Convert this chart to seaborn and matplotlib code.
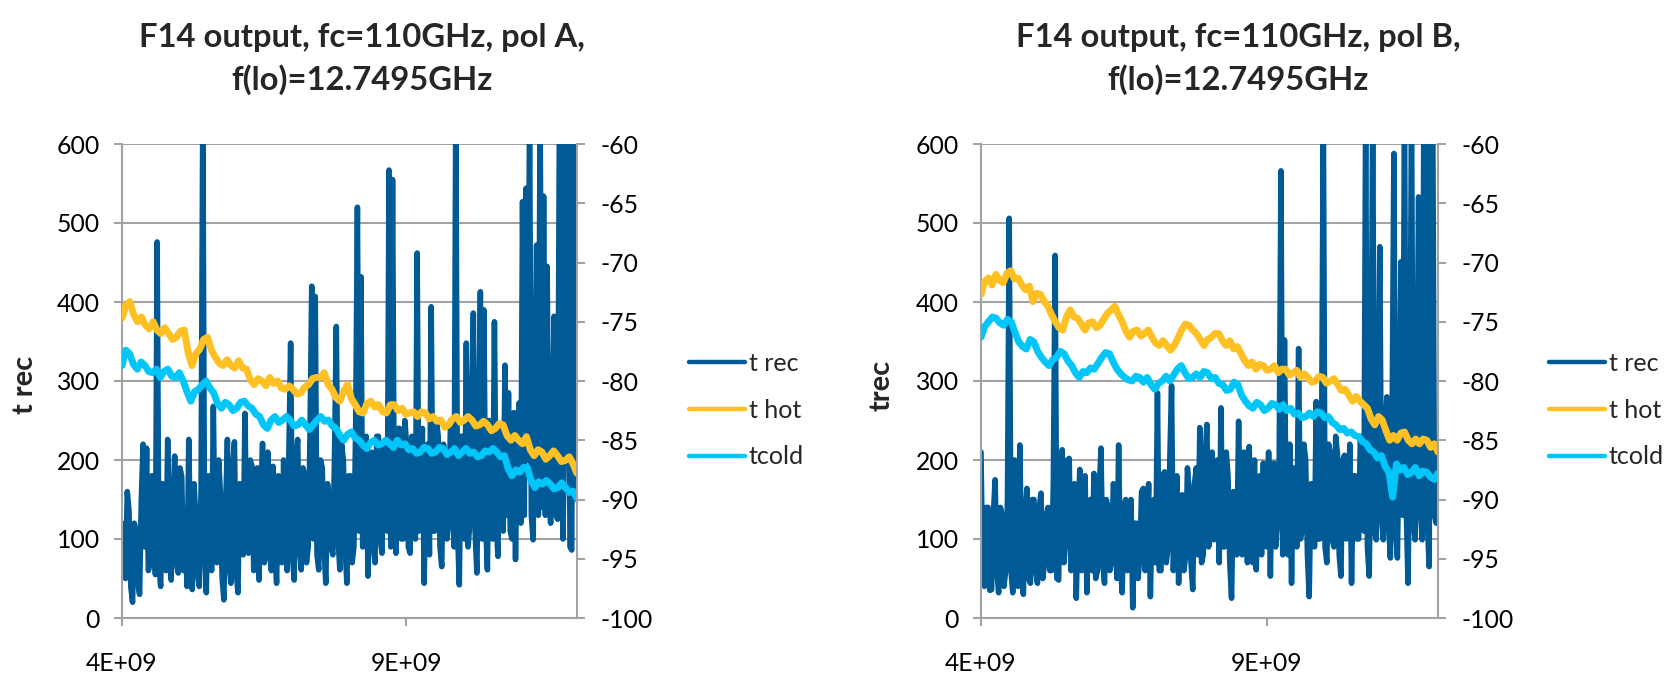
import numpy as np
import pandas as pd
import matplotlib
matplotlib.use("Agg")
import matplotlib.pyplot as plt
from matplotlib.lines import Line2D
import seaborn as sns

# ---------------- data ----------------
f_min, f_max = 4e9, 12e9
xtick_vals = [4e9, 9e9]
xtick_labels = ["4E+09", "9E+09"]
left_ticks = [0, 100, 200, 300, 400, 500, 600]
right_ticks = [-100, -95, -90, -85, -80, -75, -70, -65, -60]

titles = ["F14 output, fc=110GHz, pol A,\nf(lo)=12.7495GHz",
          "F14 output, fc=110GHz, pol B,\nf(lo)=12.7495GHz"]
ylabels = ["t rec", "trec"]
series_names = ["t rec", "t hot", "tcold"]

# pol A : receiver temperature (left axis)
trec_A = [120, 60, 50, 160, 135, 40, 20, 120, 110, 45, 30, 150, 220, 90, 215, 60, 70, 180, 160, 55,
          476, 70, 40, 170, 155, 60, 226, 80, 48, 150, 205, 70, 57, 190, 179, 60, 120, 40, 226, 90,
          36, 170, 129, 55, 40, 160, 650, 90, 32, 180, 140, 60, 268, 80, 70, 200, 160, 50, 23, 140,
          226, 70, 44, 190, 223, 60, 32, 170, 150, 80, 259, 90, 82, 200, 192, 60, 110, 190, 48, 150,
          221, 70, 78, 210, 160, 60, 192, 90, 44, 180, 150, 70, 200, 100, 60, 210, 348, 80, 48, 200,
          226, 90, 61, 190, 180, 70, 90, 230, 420, 100, 407, 80, 61, 200, 190, 90, 44, 170, 150, 90,
          80, 210, 369, 100, 61, 220, 200, 90, 44, 180, 180, 70, 90, 240, 520, 110, 432, 90, 120, 230,
          53, 200, 210, 90, 70, 230, 230, 100, 82, 220, 200, 110, 567, 90, 555, 120, 82, 240, 240, 100,
          100, 250, 220, 90, 82, 230, 180, 100, 462, 110, 150, 240, 44, 200, 220, 80, 394, 110, 110, 250,
          230, 90, 65, 220, 200, 100, 120, 250, 240, 90, 650, 110, 42, 230, 230, 100, 348, 90, 120, 260,
          386, 110, 57, 240, 413, 100, 390, 120, 61, 250, 210, 100, 375, 120, 78, 240, 230, 110, 320, 130,
          285, 110, 100, 260, 74, 230, 272, 120, 527, 130, 544, 200, 650, 130, 99, 280, 472, 130, 650, 140,
          534, 130, 445, 150, 120, 260, 382, 130, 125, 650, 650, 100, 250, 650, 650, 90, 86, 650, 650, 150]
# pol A : hot / cold load power (right axis, dBm)
thot_A = [-74.7, -73.6, -73.3, -74.4, -75.0, -74.6, -75.3, -75.6, -75.0, -75.7, -76.0, -75.5, -76.0, -76.5,
          -76.3, -75.8, -75.7, -77.6, -78.7, -77.7, -77.3, -76.5, -76.3, -77.4, -78.0, -78.5, -78.7, -78.2,
          -78.7, -78.9, -78.3, -78.9, -79.0, -79.9, -80.3, -79.8, -80.0, -80.4, -79.7, -80.2, -80.0, -80.6,
          -80.7, -80.4, -80.7, -81.1, -81.0, -80.5, -80.3, -79.8, -79.7, -79.7, -79.3, -80.3, -80.7, -81.4,
          -81.7, -80.9, -80.3, -81.5, -82.0, -82.6, -82.7, -81.9, -81.7, -82.2, -82.0, -82.6, -82.7, -82.0,
          -82.0, -82.5, -82.3, -82.8, -82.7, -82.6, -83.0, -82.6, -82.7, -83.2, -83.0, -83.4, -83.3, -83.9,
          -83.7, -83.2, -83.0, -83.5, -83.3, -83.0, -83.3, -83.8, -83.7, -83.4, -83.7, -84.2, -84.0, -83.6,
          -83.7, -84.6, -85.0, -84.6, -85.0, -85.3, -84.7, -85.8, -86.3, -85.8, -86.0, -86.6, -86.3, -85.9,
          -86.3, -86.8, -86.7, -86.4, -87.0, -87.8]
tcold_A = [-78.7, -77.4, -77.7, -78.6, -79.0, -78.4, -78.7, -79.2, -79.3, -79.0, -79.7, -79.2, -79.0, -79.6,
           -79.7, -79.3, -80.0, -80.9, -81.7, -80.9, -80.7, -80.3, -80.0, -80.6, -81.0, -81.9, -82.3, -81.8,
           -82.0, -82.5, -82.3, -81.8, -81.7, -82.1, -82.3, -82.8, -83.0, -83.7, -84.0, -83.3, -83.0, -83.5,
           -83.3, -83.0, -83.3, -83.8, -83.7, -83.3, -83.7, -84.1, -83.7, -83.3, -83.0, -83.4, -83.3, -83.8,
           -84.0, -84.6, -85.0, -84.5, -84.3, -84.8, -85.0, -85.4, -85.7, -85.2, -85.0, -85.4, -85.3, -85.0,
           -85.3, -85.6, -85.0, -85.4, -85.3, -85.8, -85.7, -86.1, -86.0, -85.6, -85.7, -86.1, -86.0, -85.6,
           -85.7, -86.2, -86.0, -85.7, -86.3, -86.0, -85.7, -86.1, -86.0, -86.4, -86.3, -85.9, -86.0, -85.7,
           -86.0, -86.4, -86.3, -87.4, -88.0, -87.5, -87.7, -87.3, -87.3, -88.4, -89.0, -88.5, -88.7, -88.4,
           -88.7, -89.1, -89.0, -88.6, -89.0, -89.4, -89.3, -89.9]

# pol B
trec_B = [210, 50, 40, 140, 140, 35, 36, 130, 175, 60, 32, 140, 130, 40, 60, 150, 506, 60, 32, 200,
          100, 40, 219, 70, 30, 130, 164, 50, 44, 150, 150, 60, 44, 140, 158, 50, 70, 130, 140, 60,
          60, 170, 459, 50, 48, 190, 213, 70, 100, 200, 202, 60, 80, 170, 25, 130, 188, 60, 90, 180,
          32, 120, 150, 60, 183, 50, 60, 160, 215, 70, 44, 150, 140, 60, 70, 170, 160, 50, 219, 70,
          32, 140, 150, 60, 90, 150, 13, 120, 120, 50, 78, 160, 164, 60, 100, 170, 27, 140, 150, 70,
          285, 60, 60, 180, 185, 70, 90, 200, 294, 60, 120, 180, 44, 150, 156, 60, 80, 190, 160, 70,
          36, 170, 190, 80, 241, 70, 80, 200, 245, 90, 110, 210, 99, 180, 200, 70, 266, 90, 90, 210,
          180, 70, 25, 160, 150, 80, 249, 90, 80, 210, 200, 70, 217, 100, 70, 200, 61, 170, 180, 80,
          196, 100, 90, 210, 53, 180, 196, 90, 120, 200, 566, 80, 352, 100, 80, 220, 44, 190, 180, 90,
          341, 100, 110, 220, 200, 80, 27, 170, 160, 90, 274, 100, 100, 210, 650, 90, 70, 220, 208, 100,
          90, 230, 208, 80, 53, 200, 206, 100, 110, 220, 44, 180, 180, 100, 100, 230, 196, 110, 650, 90,
          53, 220, 650, 110, 99, 240, 470, 130, 99, 230, 280, 120, 76, 250, 588, 110, 76, 240, 451, 130,
          650, 140, 44, 230, 650, 120, 99, 250, 533, 140, 99, 650, 650, 120, 65, 650, 650, 130, 120, 200]
thot_B = [-72.7, -71.6, -71.3, -71.9, -71.0, -71.5, -71.7, -70.9, -70.7, -71.4, -71.3, -71.9, -72.3, -72.0,
          -73.3, -72.6, -72.7, -73.3, -73.7, -74.4, -75.0, -75.5, -75.7, -74.6, -74.0, -74.6, -74.7, -75.2,
          -75.7, -75.1, -75.0, -75.5, -75.3, -74.8, -74.3, -74.0, -73.7, -74.4, -75.0, -75.8, -76.3, -75.8,
          -75.7, -76.2, -76.0, -75.7, -76.3, -76.8, -77.0, -76.6, -77.0, -77.4, -77.0, -76.4, -75.7, -75.2,
          -75.3, -75.7, -76.0, -76.5, -77.0, -76.5, -76.3, -76.0, -76.0, -76.6, -77.0, -76.6, -77.3, -77.1,
          -77.7, -78.3, -78.7, -78.4, -79.0, -78.6, -78.7, -79.1, -79.0, -78.7, -79.3, -79.0, -79.0, -79.5,
          -79.3, -79.1, -79.7, -79.4, -79.7, -80.1, -80.0, -79.6, -79.7, -80.2, -80.0, -79.8, -80.3, -80.8,
          -80.7, -81.2, -81.7, -81.3, -81.7, -82.0, -82.3, -83.2, -83.7, -83.0, -83.3, -84.2, -85.0, -84.6,
          -85.0, -84.4, -84.3, -85.0, -85.3, -84.9, -85.3, -84.9, -85.0, -85.6, -85.3, -86.0]
tcold_B = [-76.3, -75.4, -75.0, -74.6, -74.7, -75.1, -75.3, -74.8, -75.0, -75.9, -76.7, -77.1, -77.3, -76.5,
           -76.7, -77.5, -78.0, -78.4, -78.7, -78.2, -78.0, -77.5, -77.7, -78.3, -78.7, -79.3, -79.7, -79.2,
           -79.3, -78.9, -79.0, -78.5, -78.0, -77.6, -77.7, -78.4, -79.0, -79.4, -79.7, -79.9, -80.0, -79.6,
           -79.7, -80.1, -79.7, -80.3, -80.7, -80.2, -80.0, -79.6, -80.0, -79.5, -79.0, -78.7, -79.3, -79.8,
           -79.7, -79.4, -79.7, -79.2, -79.3, -79.8, -79.7, -80.2, -80.3, -80.8, -80.7, -80.1, -80.3, -81.2,
           -81.7, -82.1, -82.3, -81.8, -82.0, -82.5, -82.3, -81.9, -82.0, -82.4, -82.0, -82.5, -82.3, -82.8,
           -82.7, -83.1, -83.0, -82.7, -83.0, -82.6, -82.7, -83.1, -83.0, -83.5, -83.7, -84.1, -84.0, -84.4,
           -84.3, -84.6, -84.7, -85.1, -85.3, -85.8, -86.0, -86.5, -86.3, -87.2, -87.7, -89.8, -87.0, -87.5,
           -87.3, -87.9, -87.7, -87.3, -88.0, -87.6, -87.7, -88.1, -88.3, -87.8]

# ---------------- style ----------------
sns.set_style("white")
FONT = ["Lato", "DejaVu Sans"]
plt.rcParams["font.family"] = FONT

C_REC = "#005A96"
C_HOT = "#FFC024"
C_COLD = "#00C6FA"
GRID = "#A3A3A3"
LW_REC = 4.0
LW_TEMP = 5.0
TICK_LEN = 5.8

W, H = 1675, 675
fig = plt.figure(figsize=(W / 100, H / 100), dpi=100)
fig.patch.set_facecolor("white")
renderer = fig.canvas.get_renderer()


def fit_size(s, target_px, weight="normal", ref=20.0):
    t = fig.text(0, 0, s, fontsize=ref, fontweight=weight)
    w = t.get_window_extent(renderer=renderer).width
    t.remove()
    return ref * target_px / w


TITLE_SIZE = fit_size("F14 output, fc=110GHz, pol A,", 446, "bold")
YLAB_SIZE = fit_size("t rec", 58, "bold")
LEG_SIZE = fit_size("t rec", 50)
TICK_SIZE = 1.1 * 0.5 * (fit_size("600", 38) + fit_size("4E+09", 67))


def make_panel(left_px, right_px, trec, thot, tcold, title, title_cx, ylabel, ylabel_x, legend_x):
    bottom = 1 - 618 / H
    height = (618 - 144) / H
    ax = fig.add_axes([left_px / W, bottom, (right_px - left_px) / W, height])
    axr = ax.twinx()

    df_rec = pd.DataFrame({"f": np.linspace(f_min, f_max, len(trec)), "v": trec})
    df_hot = pd.DataFrame({"f": np.linspace(f_min, f_max, len(thot)), "v": thot})
    df_cold = pd.DataFrame({"f": np.linspace(f_min, f_max, len(tcold)), "v": tcold})

    sns.lineplot(data=df_rec, x="f", y="v", ax=ax, color=C_REC, lw=LW_REC, legend=False,
                 estimator=None, sort=False)
    sns.lineplot(data=df_hot, x="f", y="v", ax=axr, color=C_HOT, lw=LW_TEMP, legend=False,
                 estimator=None, sort=False)
    sns.lineplot(data=df_cold, x="f", y="v", ax=axr, color=C_COLD, lw=LW_TEMP, legend=False,
                 estimator=None, sort=False)
    for a in (ax, axr):
        for ln in a.get_lines():
            ln.set_solid_joinstyle("round")
            ln.set_solid_capstyle("round")

    ax.set_xlim(f_min, f_max)
    ax.set_ylim(0, 600)
    axr.set_ylim(-100, -60)
    ax.set_xticks(xtick_vals)
    ax.set_xticklabels(xtick_labels)
    ax.set_yticks(left_ticks)
    axr.set_yticks(right_ticks)
    axr.set_yticklabels([str(t) for t in right_ticks])
    ax.set_xlabel("")
    ax.set_ylabel("")
    axr.set_ylabel("")

    ax.grid(axis="y", color=GRID, lw=1.5)
    ax.grid(axis="x", visible=False)
    axr.grid(False)

    for a in (ax, axr):
        for s in a.spines.values():
            s.set_color(GRID)
            s.set_linewidth(1.5)
        a.spines["top"].set_visible(False)
    ax.spines["right"].set_visible(False)
    axr.spines["left"].set_visible(False)
    axr.spines["bottom"].set_visible(False)

    ax.tick_params(axis="y", direction="out", length=TICK_LEN, width=1.5, color=GRID,
                   labelsize=TICK_SIZE, pad=10, labelcolor="black", left=True)
    ax.tick_params(axis="x", direction="out", length=TICK_LEN, width=1.5, color=GRID,
                   labelsize=TICK_SIZE, pad=19, labelcolor="black", bottom=True)
    axr.tick_params(axis="y", direction="out", length=TICK_LEN, width=1.5, color=GRID,
                    labelsize=TICK_SIZE, pad=11, labelcolor="black", right=True)

    fig.text(title_cx / W, 1 - 59 / H, title, ha="center", va="center", fontsize=TITLE_SIZE,
             fontweight="bold", linespacing=1.45)
    fig.text(ylabel_x / W, 1 - 385 / H, ylabel, ha="center", va="center", rotation=90,
             fontsize=YLAB_SIZE, fontweight="bold")

    handles = [Line2D([], [], color=c, lw=3.2, solid_capstyle="round") for c in (C_REC, C_HOT, C_COLD)]
    fig.legend(handles, series_names, loc="center left", bbox_to_anchor=(legend_x / W, 1 - 410 / H),
               frameon=False, fontsize=LEG_SIZE, handlelength=56 / (LEG_SIZE * 100 / 72),
               handletextpad=0.15, labelspacing=0.95, borderpad=0, borderaxespad=0)
    return ax, axr


make_panel(122, 577, trec_A, thot_A, tcold_A, titles[0], 362, ylabels[0], 25, 689)
make_panel(981, 1438, trec_B, thot_B, tcold_B, titles[1], 1238, ylabels[1], 882, 1549)

fig.savefig("out.png", dpi=100, facecolor="white")
